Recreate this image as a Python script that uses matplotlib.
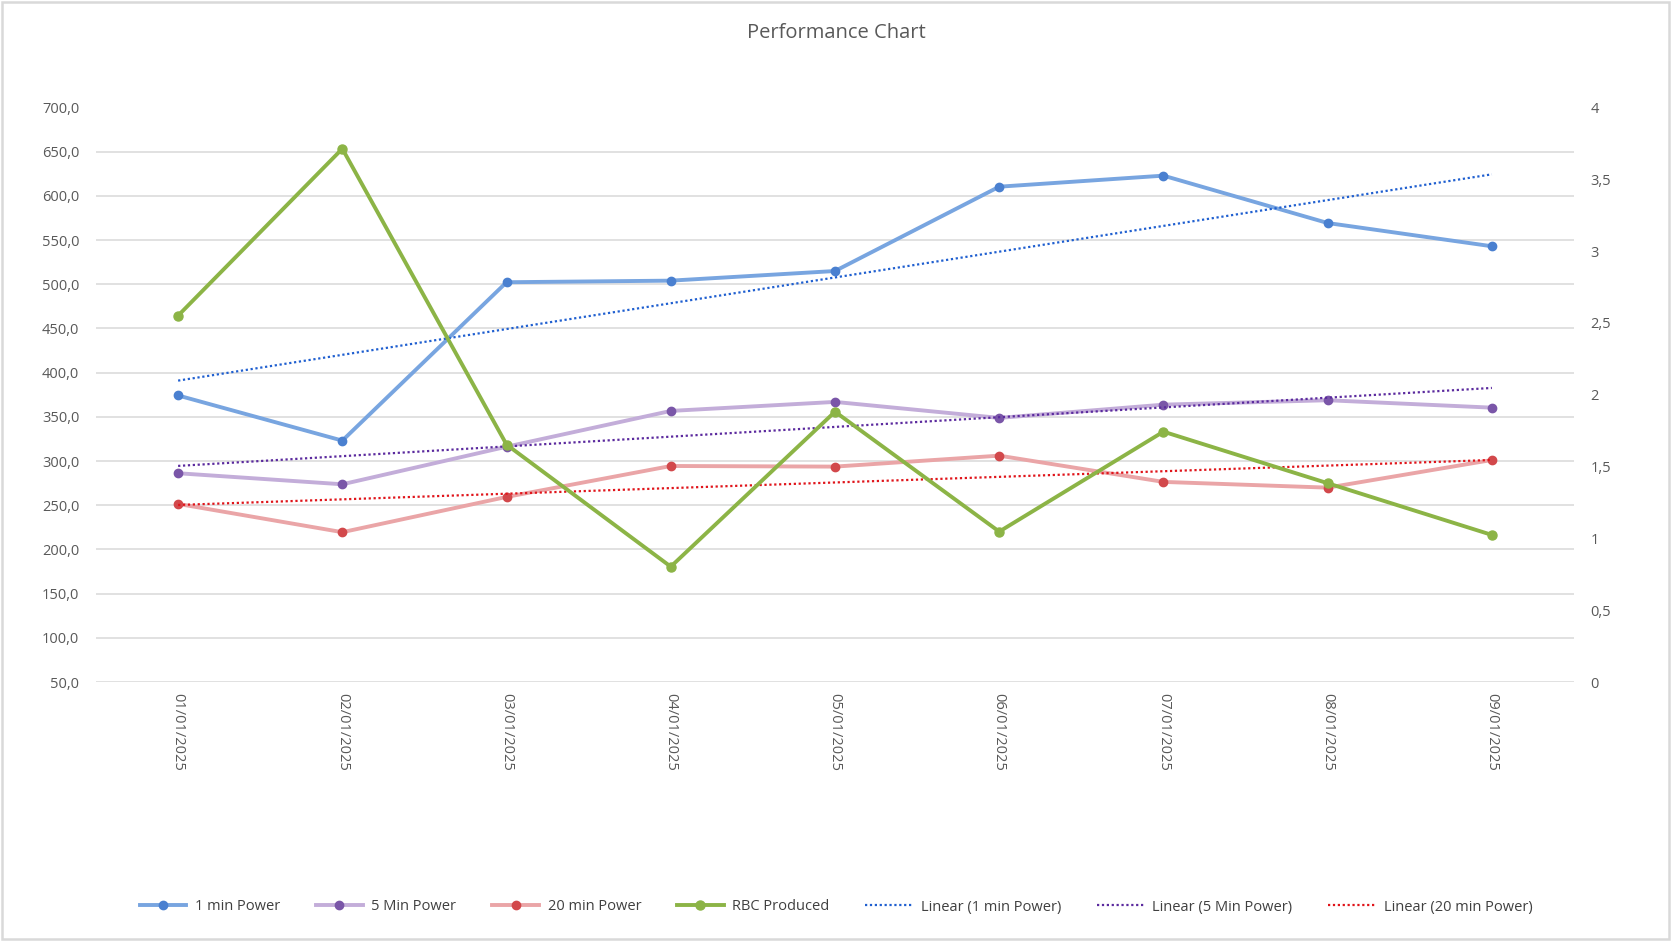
import numpy as np
import matplotlib
matplotlib.use('Agg')
import matplotlib.pyplot as plt
from matplotlib.patches import Rectangle
from matplotlib.ticker import FuncFormatter, MultipleLocator

plt.rcParams['font.family'] = ['Open Sans', 'DejaVu Sans']

# Data
dates = ['01/01/2025', '02/01/2025', '03/01/2025', '04/01/2025', '05/01/2025',
         '06/01/2025', '07/01/2025', '08/01/2025', '09/01/2025']
power_1min = [374.2, 323.1, 502.3, 504.1, 515.0, 610.4, 622.9, 569.3, 543.0]
power_5min = [286.2, 273.7, 316.2, 356.7, 366.9, 348.8, 363.8, 368.8, 360.4]
power_20min = [251.5, 219.5, 259.4, 294.4, 293.7, 306.1, 276.4, 269.9, 301.2]
rbc_produced = [2.551, 3.713, 1.653, 0.803, 1.882, 1.047, 1.743, 1.384, 1.024]

# Linear trendline values at first and last date, as shown in the chart
trend_1min = [391.0, 624.4]
trend_5min = [294.5, 382.7]
trend_20min = [250.3, 301.2]

GREY = '#595959'

fig = plt.figure(figsize=(16.72, 9.41), dpi=100)
ax = fig.add_axes([96 / 1672, 1 - 682 / 941, (1574 - 96) / 1672, (682 - 107.5) / 941])
ax2 = ax.twinx()

x = np.arange(len(dates))

l1, = ax.plot(x, power_1min, color='#78a5e0', lw=2.8, marker='o', ms=6,
              mfc='#4a80d0', mec='#4a80d0', label='1 min Power', zorder=3)
l2, = ax.plot(x, power_5min, color='#c3add9', lw=2.8, marker='o', ms=6,
              mfc='#7a56a8', mec='#7a56a8', label='5 Min Power', zorder=3)
l3, = ax.plot(x, power_20min, color='#eaa5a7', lw=2.8, marker='o', ms=6,
              mfc='#d2484b', mec='#d2484b', label='20 min Power', zorder=3)

ends = [x[0], x[-1]]
t1, = ax.plot(ends, trend_1min, color='#1f5fd0', lw=1.6, ls=(0, (1, 1.2)),
              label='Linear (1 min Power)', zorder=4)
t2, = ax.plot(ends, trend_5min, color='#5b2a9e', lw=1.6, ls=(0, (1, 1.2)),
              label='Linear (5 Min Power)', zorder=4)
t3, = ax.plot(ends, trend_20min, color='#e0141a', lw=1.6, ls=(0, (1, 1.2)),
              label='Linear (20 min Power)', zorder=4)

g1, = ax2.plot(x, rbc_produced, color='#8cb446', lw=2.8, marker='o', ms=6.5,
               mfc='#8cb446', mec='#8cb446', label='RBC Produced', zorder=3)

ax.set_xlim(-0.5, len(dates) - 0.5)
ax.set_ylim(50, 700)
ax2.set_ylim(0, 4)
ax.yaxis.set_major_locator(MultipleLocator(50))
ax2.yaxis.set_major_locator(MultipleLocator(0.5))
ax.yaxis.set_major_formatter(FuncFormatter(lambda v, p: f'{v:.1f}'.replace('.', ',')))
ax2.yaxis.set_major_formatter(FuncFormatter(lambda v, p: f'{v:g}'.replace('.', ',')))

ax.set_xticks(x)
ax.set_xticklabels(dates, rotation=270)

ax.grid(axis='y', color='#d9d9d9', lw=1.1)
ax.set_axisbelow(True)
for a in (ax, ax2):
    for s in a.spines.values():
        s.set_visible(False)
    a.tick_params(length=0, colors=GREY, labelsize=10.5)
ax.tick_params(axis='y', pad=12)
ax.tick_params(axis='x', pad=8)
ax2.tick_params(axis='y', pad=12)

fig.text(0.5, 1 - 33 / 941, 'Performance Chart', ha='center', va='center',
         fontsize=14.5, color=GREY)

handles = [l1, l2, l3, g1, t1, t2, t3]
leg = fig.legend(handles, [h.get_label() for h in handles], loc='center',
                 bbox_to_anchor=(0.5, 1 - 907 / 941), ncol=7, frameon=False,
                 fontsize=10.5, handlelength=3.2, handletextpad=0.6,
                 columnspacing=2.45, numpoints=1, labelcolor='#404040')

fig.patches.append(Rectangle((0.001, 0.002), 0.997, 0.996, transform=fig.transFigure,
                             fill=False, edgecolor='#d9d9d9', lw=1.8))

fig.savefig('out.png', dpi=100)
